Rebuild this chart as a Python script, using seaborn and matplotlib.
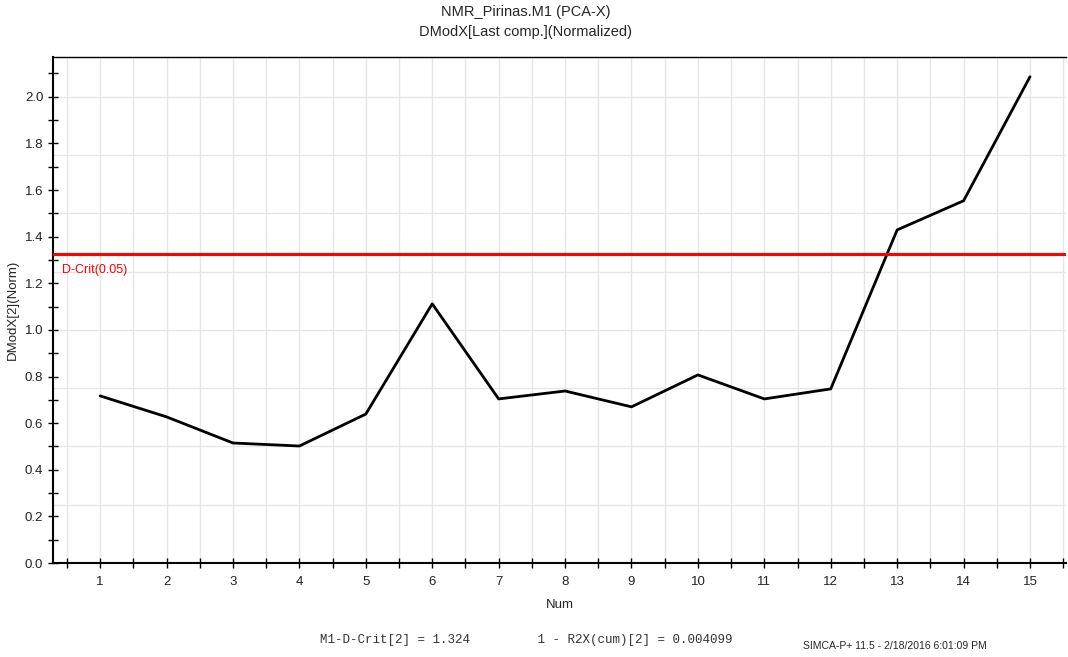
import numpy as np
import matplotlib
matplotlib.use("Agg")
import matplotlib.pyplot as plt
from matplotlib.ticker import MultipleLocator
import seaborn as sns

# data
num = [1, 2, 3, 4, 5, 6, 7, 8, 9, 10, 11, 12, 13, 14, 15]
dmodx = [0.717, 0.627, 0.515, 0.502, 0.639, 1.112, 0.704, 0.738,
         0.670, 0.807, 0.704, 0.747, 1.429, 1.554, 2.086]
d_crit = 1.324
r2x_rest = 0.004099

sns.set_theme(style="white")
plt.rcParams['font.family'] = ['Liberation Sans', 'DejaVu Sans']

fig = plt.figure(figsize=(10.68, 6.57), dpi=100)
ax = fig.add_axes([0.0496, 0.143, 0.9484, 0.770])

sns.lineplot(x=num, y=dmodx, ax=ax, color='black', linewidth=2)
ax.axhline(d_crit, color='#ff0000', linewidth=2.2, zorder=3)
ax.text(0.42, d_crit - 0.04, 'D-Crit(0.05)', color='#ff0000', fontsize=9, va='top', ha='left')

ax.set_xlim(0.29, 15.54)
ax.set_ylim(0, 2.17)

ax.xaxis.set_major_locator(MultipleLocator(1))
ax.xaxis.set_minor_locator(MultipleLocator(0.5))
ax.yaxis.set_major_locator(MultipleLocator(0.2))
ax.yaxis.set_minor_locator(MultipleLocator(0.1))

# grid: vertical at every half unit, horizontal at every quarter
for xv in np.arange(0.5, 15.6, 0.5):
    ax.axvline(xv, color='#e6e6e6', linewidth=1, zorder=0)
for yv in np.arange(0.25, 2.17, 0.25):
    ax.axhline(yv, color='#e6e6e6', linewidth=1, zorder=0)

ax.tick_params(axis='both', which='both', direction='inout', length=7, width=1,
               color='black', labelsize=9.5, labelcolor='#222222',
               bottom=True, left=True, top=False, right=False)
ax.tick_params(axis='x', which='major', pad=6)
ax.set_xticks(num)

for side in ['left', 'bottom', 'top']:
    ax.spines[side].set_color('black')
ax.spines['left'].set_linewidth(1.5)
ax.spines['bottom'].set_linewidth(1.5)
ax.spines['top'].set_linewidth(1)
ax.spines['right'].set_visible(False)

ax.set_xlabel('Num', fontsize=9.5, labelpad=8)
ax.set_ylabel('DModX[2](Norm)', fontsize=9.5, labelpad=4)

fig.text(0.492, 0.981, 'NMR_Pirinas.M1 (PCA-X)', fontsize=10.5, ha='center', va='center')
fig.text(0.492, 0.952, 'DModX[Last comp.](Normalized)', fontsize=10.5, ha='center', va='center')

fig.text(0.30, 0.026, f'M1-D-Crit[2] = {d_crit:.3f}         1 - R2X(cum)[2] = {r2x_rest}',
         fontsize=9, family=['Liberation Mono', 'DejaVu Sans Mono'], color='#333333', va='center')
fig.text(0.752, 0.016, 'SIMCA-P+ 11.5 - 2/18/2016 6:01:09 PM', fontsize=7.5, va='center')

fig.savefig('out.png', dpi=100)
